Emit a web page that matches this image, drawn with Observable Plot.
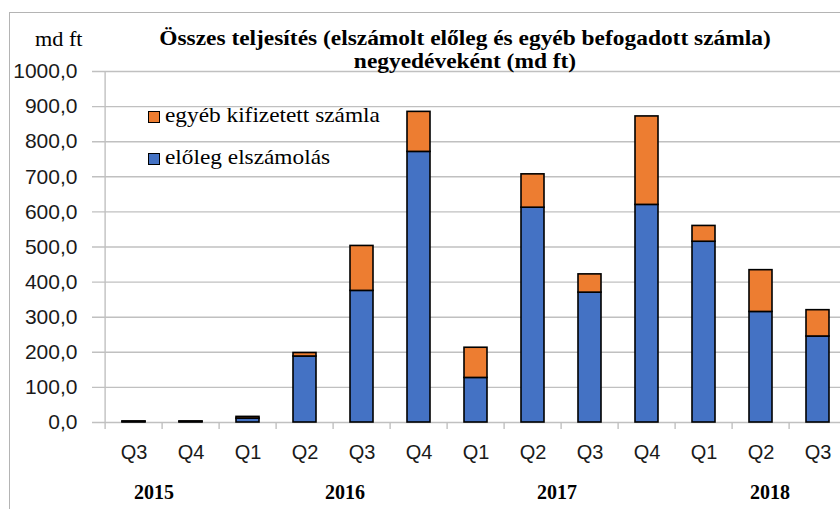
<!DOCTYPE html>
<html>
<head>
<meta charset="utf-8">
<script src="https://cdn.jsdelivr.net/npm/d3@7"></script>
<script src="https://cdn.jsdelivr.net/npm/@observablehq/plot@0.6"></script>
<style>
  html, body { margin: 0; padding: 0; background: #fff; }
  #wrap { position: relative; width: 840px; height: 509px; overflow: hidden; }
  #frame { position: absolute; left: 9px; top: 12px; width: 900px; height: 600px;
           border-top: 1.5px solid #b4b4b4; border-left: 1.5px solid #b4b4b4; }
  .title { position: absolute; left: 115px; width: 700px; text-align: center;
           font-family: "Liberation Serif", serif; font-weight: bold; font-size: 20px; line-height: 20px; color: #000;
           white-space: nowrap; transform: scaleX(1.17); transform-origin: 50% 50%; }
  #unit { position: absolute; left: 35px; top: 29px; font-family: "Liberation Serif", serif;
          font-size: 20px; line-height: 20px; color: #000; transform: scaleX(1.11); transform-origin: 0 50%; }
  .leg { position: absolute; left: 165px; font-family: "Liberation Serif", serif; font-size: 21px;
         line-height: 21px; color: #000; white-space: nowrap; transform: scaleX(1.11); transform-origin: 0 50%; }
  .sw { position: absolute; left: 148px; width: 10px; height: 10px; border: 1.5px solid #000; }
  #plot { position: absolute; left: 0; top: 0; }
</style>
</head>
<body>
<div id="wrap">
  <div id="frame"></div>
  <div id="plot"></div>
  <div id="unit">md ft</div>
  <div class="title" style="top:28px">Összes teljesítés (elszámolt előleg és egyéb befogadott számla)</div>
  <div class="title" style="top:51px">negyedéveként (md ft)</div>
  <div class="sw" id="sw1"></div><div class="leg" id="leg1"></div>
  <div class="sw" id="sw2"></div><div class="leg" id="leg2"></div>
</div>
<script>
// ---- data ----
const quarters = ["Q3","Q4","Q1","Q2","Q3","Q4","Q1","Q2","Q3","Q4","Q1","Q2","Q3"];
const yearsOf  = ["2015","2015","2016","2016","2016","2016","2017","2017","2017","2017","2018","2018","2018"];
const eloleg   = [2, 2, 11, 188, 375, 771, 127, 612, 370, 620, 515, 315, 245];
const egyeb    = [1, 1, 5, 10, 128, 114, 86, 95, 52, 252, 45, 119, 75];
const seriesNames = ["előleg elszámolás", "egyéb kifizetett számla"];
const seriesColors = ["#4472C4", "#ED7D31"];
const yTicks = [0, 100, 200, 300, 400, 500, 600, 700, 800, 900, 1000];
const yearLabels = ["2015", "2016", "2017", "2018"];
const yearAnchor = ["2015 Q3", "2016 Q3", "2017 Q3", "2018 Q2"];
const yearShift  = [20, -17, -33, 9];

// ---- build ----
const keys = quarters.map((q, i) => yearsOf[i] + " " + q);
const rows = [];
keys.forEach((k, i) => {
  rows.push({key: k, series: seriesNames[0], value: eloleg[i]});
  rows.push({key: k, series: seriesNames[1], value: egyeb[i]});
});
const xRange = [100, 851];
const step = (xRange[1] - xRange[0]) / keys.length;
const fmt = v => v.toFixed(1).replace(".", ",");
const gridColor = "#c0c0c0";

const chart = Plot.plot({
  width: 840,
  height: 509,
  marginTop: 71,
  marginBottom: 87,
  marginLeft: 100,
  marginRight: 0,
  style: {fontFamily: "Liberation Sans, Arial, sans-serif", fontSize: "20px", color: "#1a1a1a", background: "transparent", overflow: "visible"},
  x: {domain: keys, range: xRange, paddingInner: 0.6, paddingOuter: 0.3,
      tickFormat: k => k.split(" ")[1], tickSize: 0, tickPadding: 22, label: null},
  y: {domain: [0, 1000], ticks: yTicks, tickFormat: fmt, tickSize: 0, tickPadding: 23, label: null},
  color: {domain: seriesNames, range: seriesColors},
  marks: [
    Plot.ruleY(yTicks, {y: d => d, stroke: gridColor, strokeWidth: 1.4, insetLeft: -8}),
    Plot.ruleX(keys, {x: d => d, dx: -step / 2, y1: -20, y2: 0, stroke: gridColor, strokeWidth: 1.4}),
    Plot.ruleX([keys[0]], {x: d => d, dx: -step / 2, y1: 0, y2: 1000, stroke: gridColor, strokeWidth: 1.4}),
    Plot.barY(rows, {x: "key", y: "value", fill: "series", stroke: "#000", strokeWidth: 1.6, order: seriesNames}),
    Plot.text(yearLabels, {x: (d, i) => yearAnchor[i], text: d => d, frameAnchor: "bottom", lineAnchor: "bottom",
      dx: 0, dy: 76, fontFamily: "Liberation Serif, serif", fontWeight: "bold", fontSize: 20, fill: "#000"})
  ]
});
document.getElementById("plot").append(chart);

// y tick labels slightly larger, as in the reference
chart.querySelectorAll('[aria-label="y-axis tick label"] text, [aria-label="y-axis"] text').forEach(t => t.style.fontSize = "21px");

// apply per-label horizontal shifts for the year row
const yearTexts = chart.querySelectorAll('g[aria-label="text"] text');
yearTexts.forEach((t, i) => {
  const x = +t.getAttribute("x") || 0;
  const tr = t.getAttribute("transform");
  if (tr) {
    const m = tr.match(/translate\(([-\d.]+),([-\d.]+)\)/);
    if (m) t.setAttribute("transform", `translate(${+m[1] + yearShift[i]},${m[2]})`);
  } else {
    t.setAttribute("x", x + yearShift[i]);
  }
});

// legend
const legTops = [105, 147];
const legOrder = [1, 0];
legOrder.forEach((s, j) => {
  const sw = document.getElementById("sw" + (j + 1));
  sw.style.top = (legTops[j] + 6) + "px";
  sw.style.background = seriesColors[s];
  const lg = document.getElementById("leg" + (j + 1));
  lg.style.top = legTops[j] + "px";
  lg.textContent = seriesNames[s];
});
</script>
</body>
</html>
